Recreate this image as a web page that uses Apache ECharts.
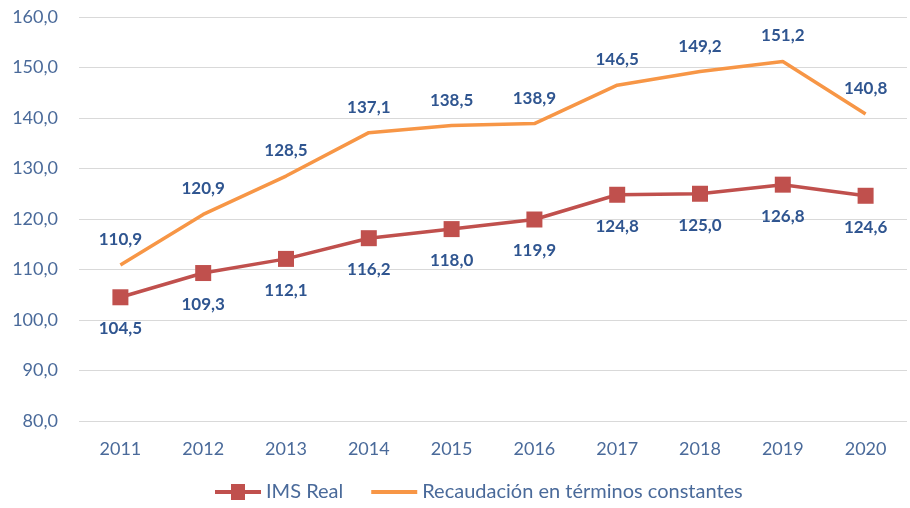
<!DOCTYPE html>
<html>
<head>
<meta charset="utf-8">
<script src="https://cdn.jsdelivr.net/npm/echarts@6/dist/echarts.min.js"></script>
<style>
  html, body { margin: 0; padding: 0; background: #fff; }
  #container { width: 910px; height: 508px; }
</style>
</head>
<body>
<div id="container"></div>
<script>
var years = ['2011', '2012', '2013', '2014', '2015', '2016', '2017', '2018', '2019', '2020'];
var imsReal = [104.5, 109.3, 112.1, 116.2, 118.0, 119.9, 124.8, 125.0, 126.8, 124.6];
var recaudacion = [110.9, 120.9, 128.5, 137.1, 138.5, 138.9, 146.5, 149.2, 151.2, 140.8];

var fontName = 'Lato, "Open Sans", sans-serif';
var axisColor = '#4a6a9a';
var labelColor = '#2f5590';

function fmt(v) {
    return v.toFixed(1).replace('.', ',');
}

var myChart = echarts.init(document.getElementById('container'));
myChart.setOption({
    animation: false,
    textStyle: { fontFamily: fontName },
    grid: { left: 79, right: 3, top: 17, bottom: 87 },
    legend: {
        bottom: 1,
        left: 210,
        itemWidth: 46,
        itemHeight: 16,
        itemGap: 28,
        textStyle: { color: axisColor, fontSize: 20, fontFamily: fontName },
        data: [
            { name: 'IMS Real', icon: 'path://M0,6 L16,6 L16,0 L30,0 L30,6 L46,6 L46,10 L30,10 L30,16 L16,16 L16,10 L0,10 Z' },
            { name: 'Recaudación en términos constantes', icon: 'path://M0,6 L46,6 L46,10 L0,10 Z' }
        ]
    },
    xAxis: {
        type: 'category',
        data: years,
        boundaryGap: true,
        axisLine: { show: false },
        axisTick: { show: false },
        axisLabel: { color: axisColor, fontSize: 18, margin: 19 }
    },
    yAxis: {
        type: 'value',
        min: 80,
        max: 160,
        interval: 10,
        axisLine: { show: false },
        axisTick: { show: false },
        splitLine: { lineStyle: { color: '#d9d9d9', width: 1 } },
        axisLabel: {
            color: axisColor,
            fontSize: 18,
            margin: 21,
            formatter: function (v) { return fmt(v); }
        }
    },
    series: [{
        name: 'IMS Real',
        type: 'line',
        data: imsReal,
        symbol: 'rect',
        symbolSize: 16,
        itemStyle: { color: '#c0504d' },
        lineStyle: { color: '#c0504d', width: 3.5 },
        label: {
            show: true,
            position: 'bottom',
            distance: 15,
            color: labelColor,
            fontWeight: 'bold',
            fontSize: 17,
            formatter: function (p) { return fmt(p.value); }
        }
    }, {
        name: 'Recaudación en términos constantes',
        type: 'line',
        data: recaudacion,
        symbol: 'circle',
        symbolSize: 0,
        itemStyle: { color: '#f79646' },
        lineStyle: { color: '#f79646', width: 3.5 },
        label: {
            show: true,
            position: 'top',
            distance: 17,
            color: labelColor,
            fontWeight: 'bold',
            fontSize: 17,
            formatter: function (p) { return fmt(p.value); }
        }
    }]
});
</script>
</body>
</html>
